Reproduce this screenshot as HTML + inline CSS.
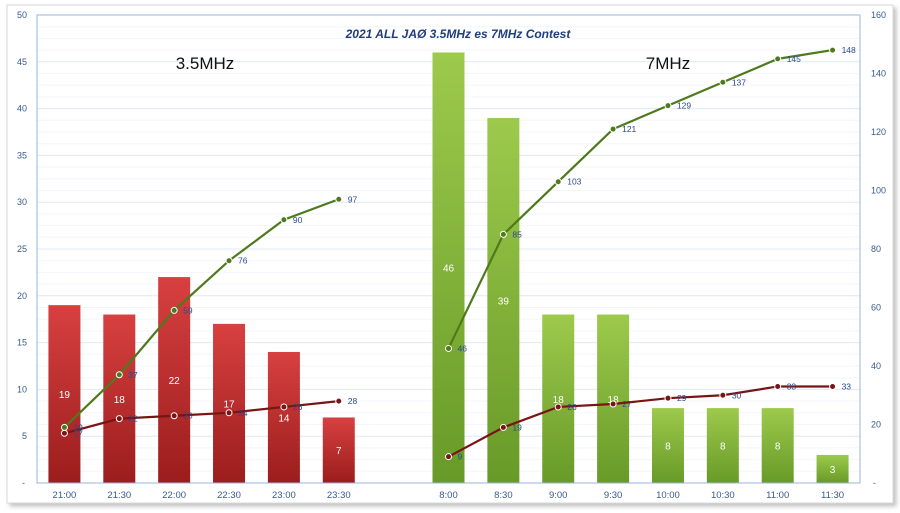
<!DOCTYPE html>
<html><head><meta charset="utf-8"><style>
body{margin:0;background:#fff;width:900px;height:513px;overflow:hidden}
svg{display:block}
</style></head><body>
<svg id="c" width="900" height="513" xmlns="http://www.w3.org/2000/svg" font-family="Liberation Sans, sans-serif">
<defs>
<linearGradient id="rg" x1="0" y1="0" x2="0" y2="1"><stop offset="0" stop-color="#d84040"/><stop offset="1" stop-color="#9b1d1d"/></linearGradient>
<linearGradient id="gg" x1="0" y1="0" x2="0" y2="1"><stop offset="0" stop-color="#9dca4c"/><stop offset="1" stop-color="#689a28"/></linearGradient>
<filter id="sh" x="-5%" y="-5%" width="110%" height="110%"><feDropShadow dx="3" dy="3" stdDeviation="2" flood-color="#999" flood-opacity="0.6"/></filter>
</defs>
<rect x="7" y="5" width="886" height="498" fill="#fff" stroke="#d8d8d8" filter="url(#sh)"/>
<g id="g"></g>
</svg>
<script>
var g=document.getElementById('g'),s='';
var L=37,R=860,T=15,B=483;
function yl(v){return B-(B-T)*v/50}
function yr(v){return B-(B-T)*v/160}
function cx(i){return L+(R-L)/15*(i+0.5)}
for(var v=0;v<=50;v+=1.25){var y=yl(v);s+='<line x1="'+L+'" x2="'+R+'" y1="'+y+'" y2="'+y+'" stroke="'+(v%5==0?'#dfe8f5':'#f2f5fb')+'" stroke-width="1"/>';}
for(var v=5;v<=50;v+=5)s+='<text x="27" y="'+(yl(v)+3)+'" font-size="9" fill="#3a5a8a" text-anchor="end">'+v+'</text>';
s+='<text x="25" y="'+(B+3)+'" font-size="9" fill="#3a5a8a" text-anchor="end">-</text>';
for(var v=20;v<=160;v+=20)s+='<text x="871" y="'+(yr(v)+3)+'" font-size="9" fill="#3a5a8a">'+v+'</text>';
s+='<text x="873" y="'+(B+3)+'" font-size="9" fill="#3a5a8a">-</text>';
var lab=['21:00','21:30','22:00','22:30','23:00','23:30','','8:00','8:30','9:00','9:30','10:00','10:30','11:00','11:30'];
var bars=[19,18,22,17,14,7,null,46,39,18,18,8,8,8,3];
for(var i=0;i<15;i++){if(bars[i]==null)continue;var x=cx(i)-16,y=yl(bars[i]),h=B-y;
s+='<rect x="'+x+'" y="'+y+'" width="32" height="'+h+'" fill="url(#'+(i<6?'rg':'gg')+')"/>';
s+='<text x="'+cx(i)+'" y="'+(y+h/2+4)+'" font-size="10" fill="#fff" text-anchor="middle">'+bars[i]+'</text>';
s+='<text x="'+cx(i)+'" y="498" font-size="9.5" fill="#3a5a8a" text-anchor="middle">'+lab[i]+'</text>';}
s+='<rect x="'+L+'" y="'+T+'" width="'+(R-L)+'" height="'+(B-T)+'" fill="none" stroke="#9ab5dc"/>';
function line(idx,vals,col){var p=[];for(var k=0;k<vals.length;k++)p.push(cx(idx[k])+','+yr(vals[k]));
s+='<polyline points="'+p.join(' ')+'" fill="none" stroke="'+col+'" stroke-width="2.2"/>';
for(var k=0;k<vals.length;k++){s+='<circle cx="'+cx(idx[k])+'" cy="'+yr(vals[k])+'" r="3" fill="'+col+'" stroke="#fff" stroke-width="1"/>';
s+='<text x="'+(cx(idx[k])+9)+'" y="'+(yr(vals[k])+3)+'" font-size="8.5" fill="#2a4a8a">'+vals[k]+'</text>';}}
line([0,1,2,3,4,5],[17,22,23,24,26,28],'#7a1414');
line([0,1,2,3,4,5],[19,37,59,76,90,97],'#4e7a1c');
line([7,8,9,10,11,12,13,14],[9,19,26,27,29,30,33,33],'#7a1414');
line([7,8,9,10,11,12,13,14],[46,85,103,121,129,137,145,148],'#4e7a1c');
s+='<text x="458" y="38" font-size="12" font-weight="bold" font-style="italic" fill="#1f3d7a" text-anchor="middle">2021 ALL JAØ  3.5MHz es 7MHz Contest</text>';
s+='<text x="205" y="69" font-size="17" fill="#111" text-anchor="middle">3.5MHz</text>';
s+='<text x="668" y="69" font-size="17" fill="#111" text-anchor="middle">7MHz</text>';
g.innerHTML=s;
</script>
</body></html>
